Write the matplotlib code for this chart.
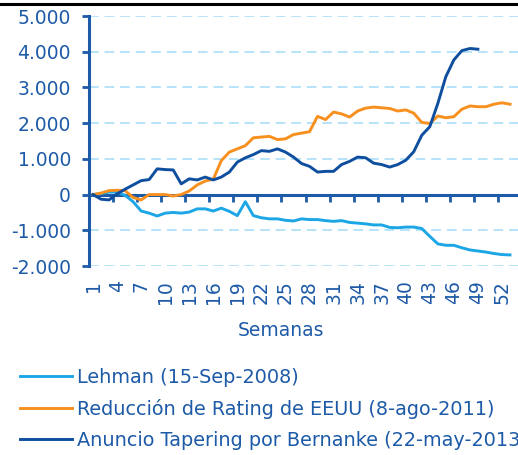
import matplotlib
matplotlib.use('Agg')
import matplotlib.pyplot as plt
from matplotlib.lines import Line2D

# ---- data ----
weeks = list(range(1, 54))
lehman = [0, 30, 70, 70, -20, -200, -460, -520, -600, -520, -500, -520, -490, -400,
          -400, -460, -380, -470, -590, -200, -590, -650, -680, -680, -720, -740, -680,
          -700, -700, -730, -750, -730, -780, -800, -820, -850, -850, -920, -930, -910,
          -910, -950, -1170, -1380, -1420, -1420, -1490, -1550, -1580, -1610, -1650,
          -1680, -1690]
rating = [0, 40, 110, 120, 110, -80, -150, 0, 0, 0, -40, 0, 100, 270, 380, 430, 950,
          1190, 1280, 1370, 1590, 1610, 1630, 1540, 1560, 1680, 1720, 1760, 2190, 2100,
          2310, 2260, 2170, 2340, 2420, 2450, 2430, 2410, 2340, 2370, 2280, 2020, 1990,
          2200, 2150, 2180, 2390, 2480, 2460, 2460, 2530, 2570, 2530]
tapering = [0, -130, -150, 20, 150, 270, 390, 420, 720, 700, 690, 300, 440, 410, 490,
            410, 490, 630, 910, 1030, 1120, 1230, 1210, 1280, 1190, 1050, 870, 790, 630,
            650, 650, 840, 930, 1050, 1030, 880, 840, 770, 840, 960, 1200, 1660, 1900,
            2550, 3300, 3770, 4030, 4090, 4070]
series_labels = ['Lehman (15-Sep-2008)',
                 'Reducción de Rating de EEUU (8-ago-2011)',
                 'Anuncio Tapering por Bernanke (22-may-2013)']
y_ticks = [-2000, -1000, 0, 1000, 2000, 3000, 4000, 5000]
y_tick_labels = ['-2.000', '-1.000', '0', '1.000', '2.000', '3.000', '4.000', '5.000']
x_tick_weeks = list(range(1, 53, 3))
x_label = 'Semanas'

# ---- style ----
TXT = '#1D5AA7'
DARK = '#0E4E9E'
LIGHT = '#1CA6E6'
ORANGE = '#F7901E'
GRID = '#B7E3F8'
FS = 13.5

plt.rcParams['font.family'] = ['DejaVu Sans']

W, H = 518, 455
fig = plt.figure(figsize=(W / 100, H / 100), dpi=100)
ax = fig.add_axes([89 / W, 1 - 266 / H, (522 - 89) / W, (266 - 16) / H])

l1, = ax.plot(weeks[:len(lehman)], lehman, color=LIGHT, lw=2.1, zorder=3)
l2, = ax.plot(weeks[:len(rating)], rating, color=ORANGE, lw=2.1, zorder=3)
l3, = ax.plot(weeks[:len(tapering)], tapering, color=DARK, lw=2.1, zorder=4)
for l in (l1, l2, l3):
    l.set_clip_on(False)

ax.set_xlim(0.5, 53.5)
ax.set_ylim(-2000, 5000)

ax.set_yticks(y_ticks)
ax.set_yticklabels(y_tick_labels)
ax.tick_params(axis='y', direction='out', length=5, width=2, color=TXT,
               labelsize=FS, labelcolor=TXT, pad=8)

ax.yaxis.grid(True, color=GRID, linestyle=(0, (5, 3)), lw=1.4)
ax.set_axisbelow(True)

for s in ('top', 'right'):
    ax.spines[s].set_visible(False)
ax.spines['left'].set_color(TXT)
ax.spines['left'].set_linewidth(2.2)
ax.spines['bottom'].set_position(('data', 0))
ax.spines['bottom'].set_color(TXT)
ax.spines['bottom'].set_linewidth(2.2)

ax.set_xticks(x_tick_weeks)
ax.tick_params(axis='x', which='major', length=0, labelbottom=False)
ax.set_xticks([w + 2.5 for w in x_tick_weeks], minor=True)
ax.tick_params(axis='x', which='minor', direction='out', length=5, width=2, color=TXT)

sec = ax.secondary_xaxis(0)
sec.set_xticks(x_tick_weeks)
sec.set_xticklabels([str(w) for w in x_tick_weeks])
sec.tick_params(axis='x', length=0, pad=10, labelsize=FS, labelcolor=TXT, labelrotation=90)
sec.spines['bottom'].set_visible(False)

fig.text(281 / W, 1 - 331 / H, x_label, ha='center', va='center', fontsize=FS, color=TXT)

fig.add_artist(Line2D([0, 1], [1 - 4 / H] * 2, transform=fig.transFigure,
                      color='black', lw=2.2))

fig.legend([l1, l2, l3], series_labels, loc='upper left',
           bbox_to_anchor=(20 / W, 1 - 368 / H), frameon=False, borderpad=0,
           borderaxespad=0, handlelength=2.7, handletextpad=0.27,
           labelspacing=0.62, fontsize=13.9, labelcolor=TXT)

fig.savefig('out.png', dpi=100)
